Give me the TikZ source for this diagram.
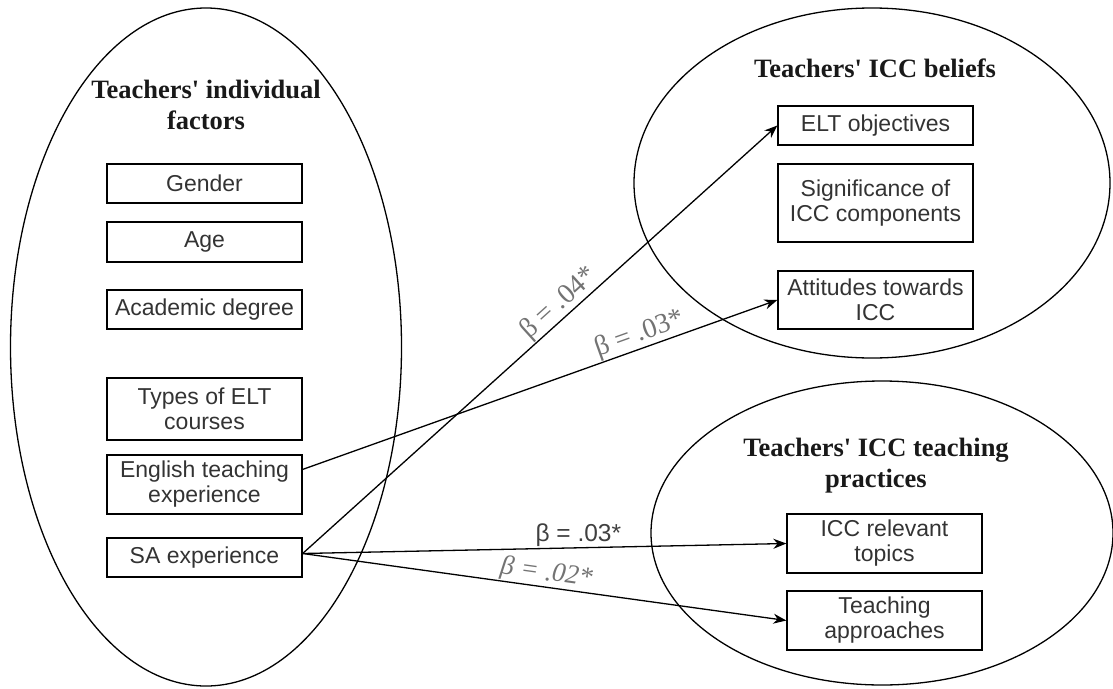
\documentclass[tikz,border=0pt]{standalone}
\usepackage{fontspec}
\setmainfont{Liberation Serif}
\newfontfamily\titlefont{Liberation Serif}[Ligatures=TeXOff]
\newfontfamily\boxfont{Liberation Sans}
\usetikzlibrary{shapes.geometric,arrows.meta,calc}

\begin{document}
\begin{tikzpicture}[x=1pt,y=-1pt,line width=1.3pt,
  item/.style={draw, rectangle, minimum width=195pt, inner sep=0pt, align=center,
    font=\boxfont\fontsize{23}{25}\selectfont, text=black!80},
  group/.style={draw, ellipse, inner sep=0pt},
  heading/.style={align=center, text=black!90, font=\titlefont\bfseries\fontsize{26.5}{31}\selectfont},
  link/.style={-{Stealth[length=13pt,width=10pt]}},
  coef/.style={font=\fontsize{28}{28}\selectfont, text=black!55, sloped, above, inner sep=0.5pt},
  flatcoef/.style={font=\boxfont\fontsize{24.5}{24.5}\selectfont, text=black!75, above, inner sep=1pt}
]
\useasboundingbox (0,0) rectangle (1113,688);

% the three groups of variables
\node[group, minimum width=391pt, minimum height=678pt] (indiv) at (206,347) {};
\node[group, minimum width=476pt, minimum height=350pt] (beliefs) at (872,183) {};
\node[group, minimum width=462pt, minimum height=304pt] (practices) at (882,533) {};

% group headings
\node[heading] (indivtitle) at (206,105) {Teachers' individual\\factors};
\node[heading] (beliefstitle) at (875,68) {Teachers' ICC beliefs};
\node[heading] (practicestitle) at (876,466) {Teachers' ICC teaching\\practices};

% individual factors
\node[item, minimum height=39pt] (gender) at (204.5,183.5) {Gender};
\node[item, minimum height=40pt] (age) at (204.5,242) {Age};
\node[item, minimum height=39pt] (degree) at (204.5,309.5) {Academic degree};
\node[item, minimum height=62pt] (courses) at (204.5,409) {Types of ELT\\courses};
\node[item, minimum height=59pt] (ete) at (204.5,484.5) {English teaching\\experience};
\node[item, minimum height=39pt] (sa) at (204.5,557.5) {SA experience};

% ICC beliefs
\node[item, minimum height=39pt] (elt) at (875.5,125.5) {ELT objectives};
\node[item, minimum height=78pt] (signif) at (875.5,203) {Significance of\\ICC components};
\node[item, minimum height=58pt] (att) at (875.5,300) {Attitudes towards\\ICC};

% ICC teaching practices
\node[item, minimum height=59pt] (topics) at (884.5,543.5) {ICC relevant\\topics};
\node[item, minimum height=59pt] (appr) at (884.5,620.5) {Teaching\\approaches};

% significant paths
\coordinate (eteout) at ($(ete.east)!0.5!(ete.north east)$);
\coordinate (saout) at ($(sa.east)+(0,-4)$);
\draw[link] (eteout) -- (att.west) node[coef, pos=0.72] {β = .03*};
\draw[link] (saout) -- (elt.west) node[coef, pos=0.56] {β = .04*};
\draw[link] (saout) -- (topics.west) node[flatcoef, pos=0.57] {β = .03*};
\draw[link] (saout) -- (appr.west) node[coef, pos=0.5, font=\itshape\fontsize{27}{27}\selectfont] {β = .02*};
\end{tikzpicture}
\end{document}
